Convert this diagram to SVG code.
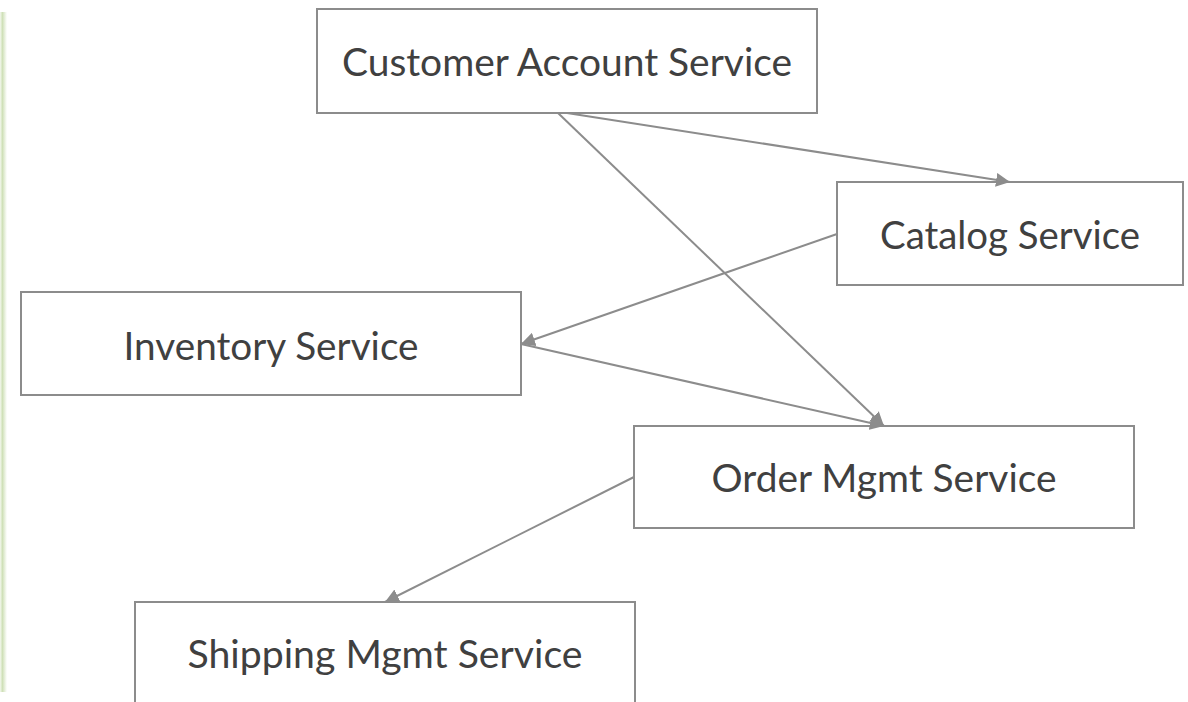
<svg xmlns="http://www.w3.org/2000/svg" width="1188" height="702" viewBox="0 0 1188 702">
  <defs>
    <style>
      .box { fill: #ffffff; stroke: #8c8c8c; stroke-width: 2; }
      .lbl { font-family: "Lato", "Open Sans", "Liberation Sans", sans-serif; font-size: 38px; fill: #404040; text-anchor: middle; }
      .conn { stroke: #8c8c8c; stroke-width: 2; fill: none; marker-end: url(#arrow); }
    </style>
    <marker id="arrow" markerUnits="userSpaceOnUse" markerWidth="16" markerHeight="14" refX="14" refY="7" orient="auto">
      <path d="M0,0 L14,7 L0,14 Z" fill="#8c8c8c"/>
    </marker>
    <linearGradient id="edge" x1="0" y1="0" x2="1" y2="0">
      <stop offset="0" stop-color="#f4f8ee"/>
      <stop offset="0.35" stop-color="#cfe0b8"/>
      <stop offset="1" stop-color="#ffffff"/>
    </linearGradient>
  </defs>
  <rect x="0" y="0" width="1188" height="702" fill="#ffffff"/>
  <rect x="0" y="12" width="7" height="680" fill="url(#edge)"/>

  <g id="node-customer">
    <rect class="box" x="317" y="9" width="500" height="104"/>
    <text class="lbl" x="567" y="76" textLength="450" lengthAdjust="spacingAndGlyphs">Customer Account Service</text>
  </g>
  <g id="node-catalog">
    <rect class="box" x="837" y="182" width="346" height="103"/>
    <text class="lbl" x="1010" y="249" textLength="260" lengthAdjust="spacingAndGlyphs">Catalog Service</text>
  </g>
  <g id="node-inventory">
    <rect class="box" x="21" y="292" width="500" height="103"/>
    <text class="lbl" x="271" y="360" textLength="295" lengthAdjust="spacingAndGlyphs">Inventory Service</text>
  </g>
  <g id="node-order">
    <rect class="box" x="634" y="426" width="500" height="102"/>
    <text class="lbl" x="884" y="492" textLength="345" lengthAdjust="spacingAndGlyphs">Order Mgmt Service</text>
  </g>
  <g id="node-shipping">
    <rect class="box" x="135" y="602" width="500" height="104"/>
    <text class="lbl" x="385" y="668" textLength="395" lengthAdjust="spacingAndGlyphs">Shipping Mgmt Service</text>
  </g>

  <g id="connectors">
    <line class="conn" x1="567" y1="113" x2="1010" y2="182"/>
    <line class="conn" x1="558" y1="113" x2="884" y2="426"/>
    <line class="conn" x1="837" y1="234" x2="521" y2="344"/>
    <line class="conn" x1="521" y1="344" x2="884" y2="426"/>
    <line class="conn" x1="634" y1="477" x2="385" y2="602"/>
  </g>
</svg>
